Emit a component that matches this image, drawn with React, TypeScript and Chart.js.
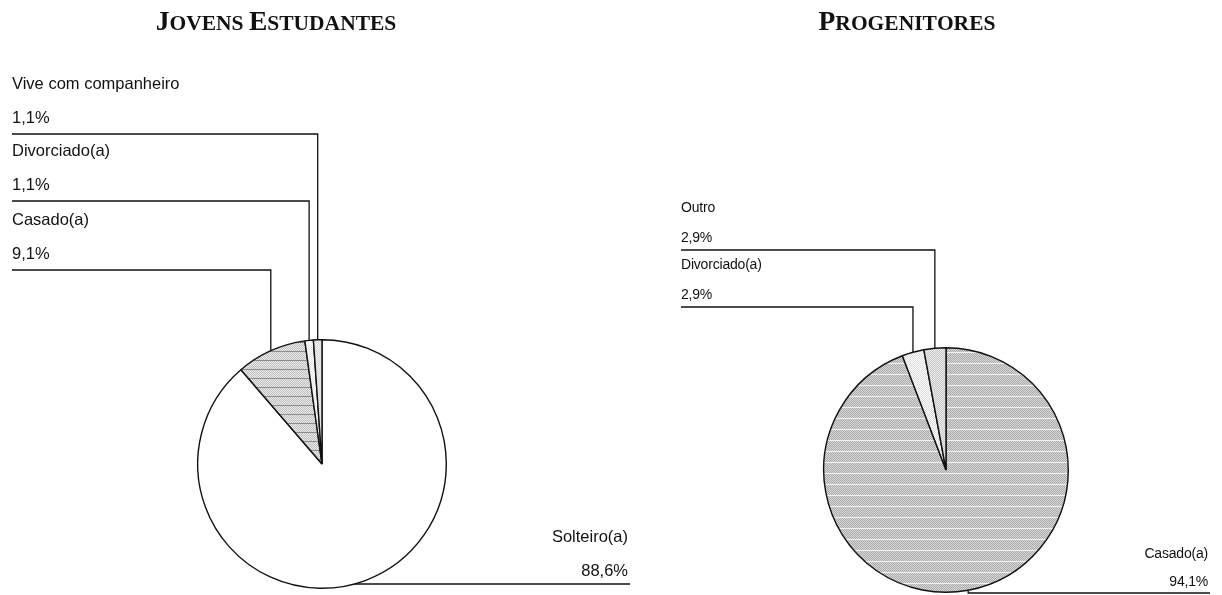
import React, { useEffect, useRef } from "react";
import { Chart, registerables } from "chart.js";

Chart.register(...registerables);

// ---------- DATA ----------
const youthTitle = "Jovens Estudantes";
const youthCategories = ["Solteiro(a)", "Casado(a)", "Divorciado(a)", "Vive com companheiro"];
const youthValues = [88.6, 9.1, 1.1, 1.1];

const parentTitle = "Progenitores";
const parentCategories = ["Casado(a)", "Divorciado(a)", "Outro"];
const parentValues = [94.1, 2.9, 2.9];

// ---------- LAYOUT / STYLE ----------
const W = 1222;
const H = 595;

type LabelSpec = { side: "left" | "right"; lineY: number };

const youthLayout = {
  padding: { left: 197, right: 775, top: 339, bottom: 6 },
  titleX: 276,
  titleY: 30,
  leftX: 12,
  rightX: 630,
  font: '16.5px "Liberation Sans", Arial, sans-serif',
  letterSpacing: "0px",
  leftNameOff: 50,
  leftValueOff: 16,
  rightNameOff: 47,
  rightValueOff: 13,
  labels: [
    { side: "right", lineY: 584 },
    { side: "left", lineY: 270 },
    { side: "left", lineY: 201 },
    { side: "left", lineY: 134 },
  ] as LabelSpec[],
};

const parentLayout = {
  padding: { left: 823, right: 153, top: 347, bottom: 2 },
  titleX: 907,
  titleY: 30,
  leftX: 681,
  rightX: 1210,
  font: '14px "Liberation Sans", Arial, sans-serif',
  letterSpacing: "-0.2px",
  leftNameOff: 42,
  leftValueOff: 12,
  rightNameOff: 39,
  rightValueOff: 11,
  labels: [
    { side: "right", lineY: 593 },
    { side: "left", lineY: 307 },
    { side: "left", lineY: 250 },
  ] as LabelSpec[],
};

const fmt = (v: number) => v.toFixed(1).replace(".", ",") + "%";

function makePattern(base: string, dot: string, line: string | null, every: number) {
  const c = document.createElement("canvas");
  c.width = 4;
  c.height = every;
  const g = c.getContext("2d")!;
  g.fillStyle = base;
  g.fillRect(0, 0, 4, every);
  g.fillStyle = dot;
  for (let y = 0; y < every; y++)
    for (let x = 0; x < 4; x++) if ((x + y) % 2 === 0) g.fillRect(x, y, 1, 1);
  if (line) {
    g.fillStyle = line;
    g.fillRect(0, 0, 4, 1);
  }
  return g.createPattern(c, "repeat")!;
}

function drawSmallCaps(ctx: CanvasRenderingContext2D, text: string, cx: number, y: number) {
  const big = 27.5;
  const small = 21.5;
  const parts = [...text].map((ch) => {
    const isCap = ch !== " " && ch === ch.toUpperCase();
    return { ch: ch.toUpperCase(), size: isCap ? big : small };
  });
  let total = 0;
  const widths: number[] = [];
  parts.forEach((p) => {
    ctx.font = `bold ${p.size}px "Liberation Serif", "Times New Roman", serif`;
    const w = ctx.measureText(p.ch).width;
    widths.push(w);
    total += w;
  });
  let x = cx - total / 2;
  ctx.fillStyle = "#111";
  ctx.textAlign = "left";
  ctx.textBaseline = "alphabetic";
  parts.forEach((p, i) => {
    ctx.font = `bold ${p.size}px "Liberation Serif", "Times New Roman", serif`;
    ctx.fillText(p.ch, x, y);
    x += widths[i];
  });
}

const leaderPlugin = {
  id: "leaders",
  afterDatasetsDraw(chart: any, _args: any, opts: any) {
    const ctx: CanvasRenderingContext2D = chart.ctx;
    const meta = chart.getDatasetMeta(0);
    const data = chart.data.datasets[0].data as number[];
    const labels = chart.data.labels as string[];
    const L = opts.layout;
    ctx.save();
    drawSmallCaps(ctx, opts.title, L.titleX, L.titleY);
    ctx.strokeStyle = "#111";
    ctx.lineWidth = 1.3;
    ctx.fillStyle = "#111";
    ctx.font = L.font;
    (ctx as any).letterSpacing = L.letterSpacing;
    ctx.textBaseline = "middle";
    meta.data.forEach((arc: any, i: number) => {
      const p = arc.getProps(["x", "y", "startAngle", "endAngle", "outerRadius"], true);
      const mid = (p.startAngle + p.endAngle) / 2;
      const ax = p.x + p.outerRadius * Math.cos(mid);
      const ay = p.y + p.outerRadius * Math.sin(mid);
      const spec: LabelSpec = L.labels[i];
      ctx.beginPath();
      if (spec.side === "left") {
        ctx.moveTo(ax, ay);
        ctx.lineTo(ax, spec.lineY);
        ctx.lineTo(L.leftX, spec.lineY);
        ctx.stroke();
        ctx.textAlign = "left";
        ctx.fillText(labels[i], L.leftX, spec.lineY - L.leftNameOff);
        ctx.fillText(fmt(data[i]), L.leftX, spec.lineY - L.leftValueOff);
      } else {
        const dy = spec.lineY - p.y;
        let sx = ax;
        if (Math.abs(dy) < p.outerRadius) {
          sx = p.x + Math.sqrt(p.outerRadius * p.outerRadius - dy * dy);
          ctx.moveTo(sx, spec.lineY);
        } else {
          ctx.moveTo(ax, ay);
          ctx.lineTo(ax, spec.lineY);
        }
        ctx.lineTo(L.rightX, spec.lineY);
        ctx.stroke();
        ctx.textAlign = "right";
        ctx.fillText(labels[i], L.rightX - 2, spec.lineY - L.rightNameOff);
        ctx.fillText(fmt(data[i]), L.rightX - 2, spec.lineY - L.rightValueOff);
      }
    });
    ctx.restore();
  },
};

function PieCanvas({ kind }: { kind: "youth" | "parent" }) {
  const ref = useRef<HTMLCanvasElement>(null);
  useEffect(() => {
    if (!ref.current) return;
    const isYouth = kind === "youth";
    const layout = isYouth ? youthLayout : parentLayout;
    const colors = isYouth
      ? [
          "#ffffff",
          makePattern("#bdbdbd", "#ececec", "#8c8c8c", 9),
          makePattern("#ffffff", "#e4e4e4", null, 4),
          makePattern("#d4d4d4", "#f4f4f4", null, 4),
        ]
      : [
          makePattern("#a9a9a9", "#d9d9d9", "#f2f2f2", 11),
          makePattern("#dcdcdc", "#ffffff", null, 4),
          makePattern("#c6c6c6", "#eeeeee", null, 4),
        ];
    const chart = new Chart(ref.current, {
      type: "pie",
      data: {
        labels: isYouth ? youthCategories : parentCategories,
        datasets: [
          {
            data: isYouth ? youthValues : parentValues,
            backgroundColor: colors as any,
            borderColor: "#111",
            borderWidth: 1.4,
          },
        ],
      },
      options: {
        responsive: false,
        maintainAspectRatio: false,
        animation: false,
        events: [],
        layout: { padding: layout.padding },
        plugins: {
          legend: { display: false },
          tooltip: { enabled: false },
          leaders: { layout, title: isYouth ? youthTitle : parentTitle },
        } as any,
      },
      plugins: [leaderPlugin as any],
    });
    return () => chart.destroy();
  }, [kind]);
  return (
    <canvas
      ref={ref}
      width={W}
      height={H}
      style={{ position: "absolute", left: 0, top: 0, width: W, height: H }}
    />
  );
}

export default function App() {
  return (
    <div style={{ position: "absolute", left: 0, top: 0, width: W, height: H, background: "#fff" }}>
      <PieCanvas kind="youth" />
      <PieCanvas kind="parent" />
    </div>
  );
}
